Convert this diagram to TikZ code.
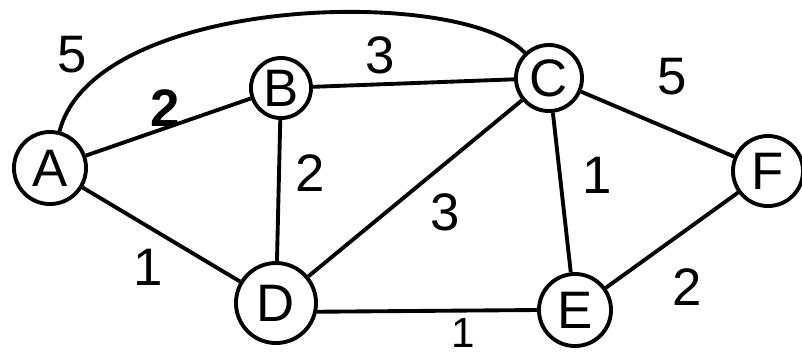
\documentclass[tikz,border=0pt]{standalone}
\usepackage{fontspec}
\setmainfont{Liberation Sans}
\usetikzlibrary{positioning}

\begin{document}
\begin{tikzpicture}[
    x=0.01cm, y=-0.01cm,
    vertex/.style={
        draw,
        circle,
        line width=1.1pt,
        inner sep=0pt,
        minimum size=7mm,
        font=\fontsize{15}{17}\selectfont
    },
    weight/.style={font=\fontsize{15}{17}\selectfont, inner sep=1pt},
    edge/.style={line width=1.1pt}
]
\useasboundingbox (0,0) rectangle (802,353);

% ------------------------
% Vertices
% ------------------------
\node[vertex, minimum size=7.2mm] (A) at (50,168) {A};
\node[vertex, minimum size=6mm]   (B) at (281,88) {B};
\node[vertex, minimum size=6.6mm] (C) at (549,78) {C};
\node[vertex, minimum size=8mm]   (D) at (276,303) {D};
\node[vertex, minimum size=7.2mm] (E) at (575,310) {E};
\node[vertex, minimum size=7mm]   (F) at (768,171) {F};

% ------------------------
% Edges
% ------------------------
\draw[edge] (A) .. controls (95,-5) and (460,-15) .. (C);
\draw[edge] (A) -- (B);
\draw[edge] (A) -- (D);
\draw[edge] (B) -- (C);
\draw[edge] (B) -- (D);
\draw[edge] (C) -- (D);
\draw[edge] (C) -- (E);
\draw[edge] (C) -- (F);
\draw[edge] (D.-12) -- (E.west);
\draw[edge] (E) -- (F);

% ------------------------
% Weights
% ------------------------
\node[weight] (wAC) at (72,55)   {5};
\node[weight] (wAB) at (165,108) {\textbf{2}};
\node[weight] (wBC) at (380,55)  {3};
\node[weight] (wBD) at (310,173) {2};
\node[weight] (wAD) at (148,267) {1};
\node[weight] (wCD) at (445,212) {3};
\node[weight] (wCE) at (597,175) {1};
\node[weight] (wCF) at (672,77)  {5};
\node[weight] (wEF) at (687,287) {2};
\node[weight, font=\fontsize{12}{14}\selectfont, inner sep=0pt, anchor=north]
    (wDE) at (463,318) {1};

\end{tikzpicture}
\end{document}
